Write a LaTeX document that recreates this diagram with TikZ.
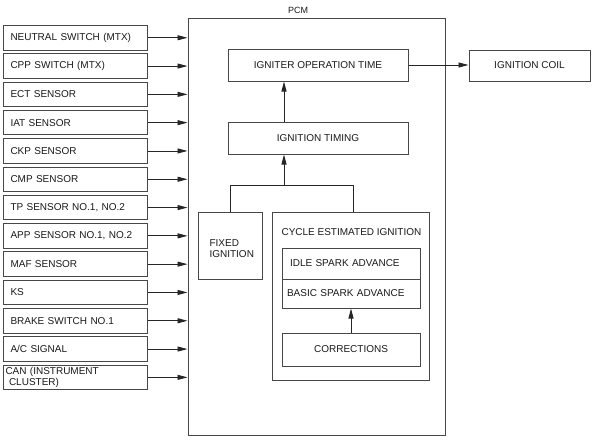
\documentclass[tikz,border=0pt]{standalone}
\usepackage{fontspec}
\setmainfont{Liberation Sans}
\usetikzlibrary{arrows.meta}
\begin{document}
\begin{tikzpicture}[x=1pt,y=-1pt,
  every node/.style={font=\fontsize{10}{11}\selectfont, text=black!90},
  box/.style={draw=black!72, line width=1pt, rectangle, inner sep=0pt},
  inbox/.style={box, anchor=north west, minimum width=144pt, minimum height=24.5pt, text width=130pt, inner xsep=7pt, align=left},
  arr/.style={draw=black!85, line width=0.9pt, -{Triangle[length=10pt,width=5pt]}},
  ln/.style={draw=black!85, line width=0.9pt}]
\useasboundingbox (0,0) rectangle (593,439);

% PCM
\node[box, minimum width=257pt, minimum height=417pt] (pcm) at (316.5,226.5) {};
\node[font=\fontsize{9}{10}\selectfont] (pcml) at (298,10) {PCM};

% inputs
\node[inbox] (i1) at (3,25.0) {NEUTRAL SWITCH (MTX)};
\node[inbox] (i2) at (3,53.3) {CPP SWITCH (MTX)};
\node[inbox] (i3) at (3,81.6) {ECT SENSOR};
\node[inbox] (i4) at (3,109.9) {IAT SENSOR};
\node[inbox] (i5) at (3,138.2) {CKP SENSOR};
\node[inbox] (i6) at (3,166.5) {CMP SENSOR};
\node[inbox] (i7) at (3,194.8) {TP SENSOR NO.1, NO.2};
\node[inbox] (i8) at (3,223.1) {APP SENSOR NO.1, NO.2};
\node[inbox] (i9) at (3,251.4) {MAF SENSOR};
\node[inbox] (i10) at (3,279.7) {KS};
\node[inbox] (i11) at (3,308.0) {BRAKE SWITCH NO.1};
\node[inbox] (i12) at (3,336.3) {A/C SIGNAL};
\node[inbox, inner xsep=2pt, text width=140pt, font=\fontsize{10}{10.5}\selectfont] (i13) at (3,364.6) {CAN (INSTRUMENT\\\hspace*{3.5pt}CLUSTER)};
\foreach \i in {1,...,13} {
  \draw[arr] (i\i.east) -- (i\i.east -| pcm.west);
}

% inner blocks
\node[box, minimum width=180pt, minimum height=32pt] (igt) at (318,65) {IGNITER OPERATION TIME};
\node[box, minimum width=180pt, minimum height=32pt] (tim) at (318,138) {IGNITION TIMING};
\node[box, minimum width=121pt, minimum height=31pt] (coil) at (529.5,65.5) {IGNITION COIL};
\draw[arr] (igt.east) -- (coil.west |- igt.east);

\node[box, minimum width=64pt, minimum height=67pt] (fix) at (230,245.5) {};
\node[anchor=west, align=left, font=\fontsize{10}{11}\selectfont] (fixt) at (206,249) {FIXED\\IGNITION};

\node[box, minimum width=157pt, minimum height=168pt] (cyc) at (350.5,296) {};
\node[anchor=west] (cyct) at (278,232) {CYCLE ESTIMATED IGNITION};

\node[box, minimum width=138pt, minimum height=31pt, text width=122pt, inner xsep=8pt, align=left] (idle) at (351,263.5) {IDLE SPARK ADVANCE};
\node[box, minimum width=138pt, minimum height=29pt, text width=128pt, inner xsep=5pt, align=left] (basic) at (351,293.5) {BASIC SPARK ADVANCE};
\node[box, minimum width=138pt, minimum height=33pt] (corr) at (351,349.5) {CORRECTIONS};
\draw[arr] (corr.north) -- (basic.south);

\coordinate (j) at (284,185.7);
\coordinate (bl) at (230,185.7);
\coordinate (br) at (353,185.7);
\draw[ln] (bl |- fix.north) -- (bl) -- (br) -- (br |- cyc.north);
\draw[arr] (j) -- (j |- tim.south);
\draw[arr] (j |- tim.north) -- (j |- igt.south);
\end{tikzpicture}
\end{document}
